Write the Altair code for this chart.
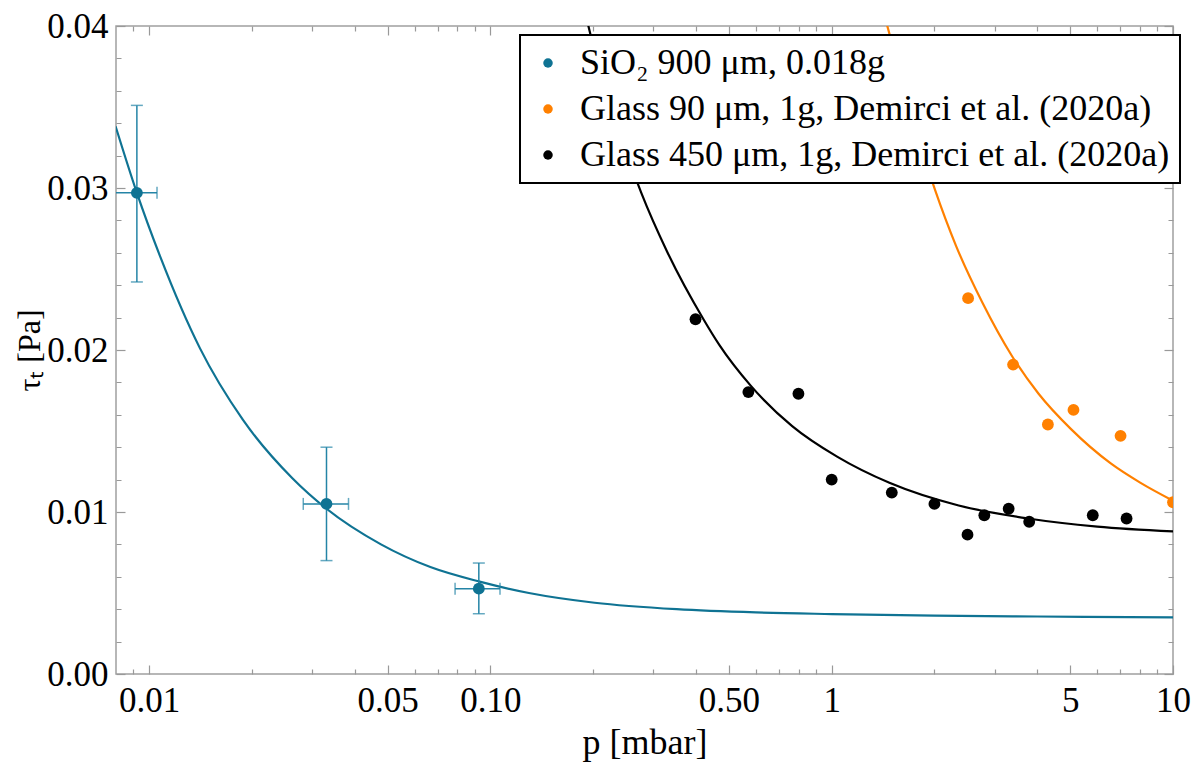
import json

import altair as alt
import pandas as pd

SERIES = [
    "SiO₂ 900 μm, 0.018g",
    "Glass 90 μm, 1g, Demirci et al. (2020a)",
    "Glass 450 μm, 1g, Demirci et al. (2020a)",
]
COLORS = ["#0f7393", "#ff8000", "#000000"]
ERR_COLOR = "#2484a6"
FONT = "Liberation Serif"

# SiO2 measurements with error bars
sio2_p = [0.00921, 0.0331, 0.0925]
sio2_tau = [0.0297, 0.0105, 0.00527]
sio2_p_lo = [0.0079, 0.0283, 0.0788]
sio2_p_hi = [0.01055, 0.0384, 0.1067]
sio2_tau_lo = [0.0242, 0.0070, 0.00372]
sio2_tau_hi = [0.0351, 0.0140, 0.00685]

# glass data, Demirci et al. (2020a)
g90_p = [2.51, 3.40, 4.30, 5.11, 7.02, 10.0]
g90_tau = [0.0232, 0.0191, 0.0154, 0.0163, 0.0147, 0.0106]
g450_p = [0.399, 0.570, 0.799, 1.0, 1.50, 2.0, 2.50, 2.80, 3.30, 3.79, 5.82, 7.31]
g450_tau = [0.0219, 0.0174, 0.0173, 0.0120, 0.0112, 0.0105, 0.0086, 0.0098,
            0.0102, 0.0094, 0.0098, 0.0096]

# fitted curves
sio2_fit_p = [0.00798, 0.00921, 0.01081, 0.0141, 0.01882, 0.02625, 0.0331, 0.0478,
              0.0667, 0.093, 0.1297, 0.202, 0.3515, 0.6, 1.0, 2.0, 4.0, 10.0]
sio2_fit_tau = [0.0338, 0.0297, 0.0257, 0.0201, 0.0157, 0.0121, 0.0102, 0.0080,
                0.0066, 0.0057, 0.0050, 0.0044, 0.0040, 0.0038, 0.0037, 0.0036,
                0.00355, 0.0035]
g90_fit_p = [1.451, 2.007, 2.317, 2.768, 3.381, 4.038, 5.035, 6.571, 8.035, 10.0]
g90_fit_tau = [0.0401, 0.0299, 0.0264, 0.0229, 0.0196, 0.0173, 0.0151, 0.0130,
               0.0118, 0.0107]
g450_fit_p = [0.1932, 0.200, 0.235, 0.2768, 0.329, 0.421, 0.469, 0.579, 0.766, 1.04,
              1.476, 2.355, 3.76, 6.0, 10.0]
g450_fit_tau = [0.0401, 0.0388, 0.0339, 0.0297, 0.0261, 0.0219, 0.0203, 0.0178,
                0.0153, 0.0134, 0.0118, 0.0104, 0.0096, 0.0091, 0.0088]

# ticks
x_ticks = [0.009, 0.01, 0.02, 0.03, 0.04, 0.05, 0.06, 0.07, 0.08, 0.09,
           0.1, 0.2, 0.3, 0.4, 0.5, 0.6, 0.7, 0.8, 0.9,
           1, 2, 3, 4, 5, 6, 7, 8, 9, 10]
x_major = [0.01, 0.05, 0.1, 0.5, 1, 5, 10]
x_major_labels = ["0.01", "0.05", "0.10", "0.50", "1", "5", "10"]
y_ticks = [0.0, 0.002, 0.004, 0.006, 0.008, 0.01, 0.012, 0.014, 0.016, 0.018,
           0.02, 0.022, 0.024, 0.026, 0.028, 0.03, 0.032, 0.034, 0.036, 0.038, 0.04]
y_major = [0.0, 0.01, 0.02, 0.03, 0.04]
y_major_labels = ["0.00", "0.01", "0.02", "0.03", "0.04"]

pts = pd.DataFrame({
    "p": sio2_p + g90_p + g450_p,
    "tau": sio2_tau + g90_tau + g450_tau,
    "series": [SERIES[0]] * len(sio2_p) + [SERIES[1]] * len(g90_p) + [SERIES[2]] * len(g450_p),
})
fits = pd.DataFrame({
    "p": sio2_fit_p + g90_fit_p + g450_fit_p,
    "tau": sio2_fit_tau + g90_fit_tau + g450_fit_tau,
    "series": [SERIES[0]] * len(sio2_fit_p) + [SERIES[1]] * len(g90_fit_p)
              + [SERIES[2]] * len(g450_fit_p),
})
err = pd.DataFrame({
    "p": sio2_p, "tau": sio2_tau,
    "p_lo": sio2_p_lo, "p_hi": sio2_p_hi,
    "tau_lo": sio2_tau_lo, "tau_hi": sio2_tau_hi,
})

xs = alt.Scale(type="log", domain=[0.008, 10], nice=False)
ys = alt.Scale(domain=[0, 0.04], nice=False, zero=False)
cs = alt.Scale(domain=SERIES, range=COLORS)


def tick_axis(orient, values, major, labels, title):
    maj = json.dumps(major)
    common = dict(
        orient=orient, values=values, offset=-9, tickSize=9, domain=False, grid=False,
        tickColor="#999999", tickWidth=1.2,
        tickDash={"condition": {"test": f"indexof({maj}, datum.value) < 0", "value": [0, 4, 5]},
                  "value": []},
        labelFlush=False, labelOverlap=False, labelBound=False,
    )
    if labels is None:
        return alt.Axis(labels=False, title=None, **common)
    return alt.Axis(
        labelExpr=f"indexof({maj}, datum.value) >= 0 ? {json.dumps(labels)}[indexof({maj}, datum.value)] : ''",
        labelFont=FONT, labelFontSize=35, labelColor="black",
        labelPadding=9 if orient == "bottom" else 8,
        title=title, titleFont=FONT, titleFontSize=36 if orient == "bottom" else 32,
        titleFontWeight="normal", titleColor="black",
        titlePadding=7 if orient == "bottom" else 0,
        **common,
    )


lines = alt.Chart(fits).mark_line(clip=True, strokeWidth=2.2, interpolate="monotone").encode(
    x=alt.X("p:Q", scale=xs, axis=tick_axis("bottom", x_ticks, x_major, x_major_labels, "p [mbar]")),
    y=alt.Y("tau:Q", scale=ys, axis=tick_axis("left", y_ticks, y_major, y_major_labels, "τₜ [Pa]")),
    color=alt.Color("series:N", scale=cs, legend=None),
)

ybars = alt.Chart(err).mark_rule(clip=True, color=ERR_COLOR, strokeWidth=1.5).encode(
    x=alt.X("p:Q", scale=xs, axis=None),
    y=alt.Y("tau_lo:Q", scale=ys, axis=None),
    y2="tau_hi:Q",
)
xbars = alt.Chart(err).mark_rule(clip=True, color=ERR_COLOR, strokeWidth=1.5).encode(
    x=alt.X("p_lo:Q", scale=xs, axis=None),
    x2="p_hi:Q",
    y=alt.Y("tau:Q", scale=ys, axis=None),
)
ycaps = alt.Chart(err).transform_fold(["tau_lo", "tau_hi"], as_=["end", "tau_end"]).mark_tick(
    clip=True, orient="horizontal", size=12, thickness=1.5, color=ERR_COLOR
).encode(
    x=alt.X("p:Q", scale=xs, axis=None),
    y=alt.Y("tau_end:Q", scale=ys, axis=None),
)
xcaps = alt.Chart(err).transform_fold(["p_lo", "p_hi"], as_=["end", "p_end"]).mark_tick(
    clip=True, orient="vertical", size=12, thickness=1.5, color=ERR_COLOR
).encode(
    x=alt.X("p_end:Q", scale=xs, axis=None),
    y=alt.Y("tau:Q", scale=ys, axis=None),
)

points = alt.Chart(pts).mark_circle(size=140, opacity=1, clip=True).encode(
    x=alt.X("p:Q", scale=xs, axis=None),
    y=alt.Y("tau:Q", scale=ys, axis=None),
    color=alt.Color(
        "series:N", scale=cs,
        legend=alt.Legend(
            title=None, orient="none", legendX=404, legendY=9,
            fillColor="white", strokeColor="black", padding=10,
            labelFont=FONT, labelFontSize=36, labelColor="black", labelLimit=800,
            labelOffset=14, symbolType="circle", symbolSize=90, symbolStrokeWidth=0,
            rowPadding=10,
        ),
    ),
)

# invisible layer carrying the mirrored top / right tick axes
frame = alt.Chart(fits).mark_point(opacity=0, clip=True).encode(
    x=alt.X("p:Q", scale=xs, axis=tick_axis("top", x_ticks, x_major, None, None)),
    y=alt.Y("tau:Q", scale=ys, axis=tick_axis("right", y_ticks, y_major, None, None)),
)

chart = (
    alt.layer(lines, ybars, xbars, ycaps, xcaps, points, frame)
    .resolve_axis(x="independent", y="independent")
    .resolve_scale(color="independent")
    .properties(
        width=1057, height=648, autosize="none",
        padding={"left": 108, "top": 18, "right": 19, "bottom": 89},
    )
    .configure_view(stroke="#a0a0a0", strokeWidth=1.5)
    .configure_legend(strokeWidth=2)
)

chart.save("out.html", embed_options={"renderer": "svg", "actions": False})
